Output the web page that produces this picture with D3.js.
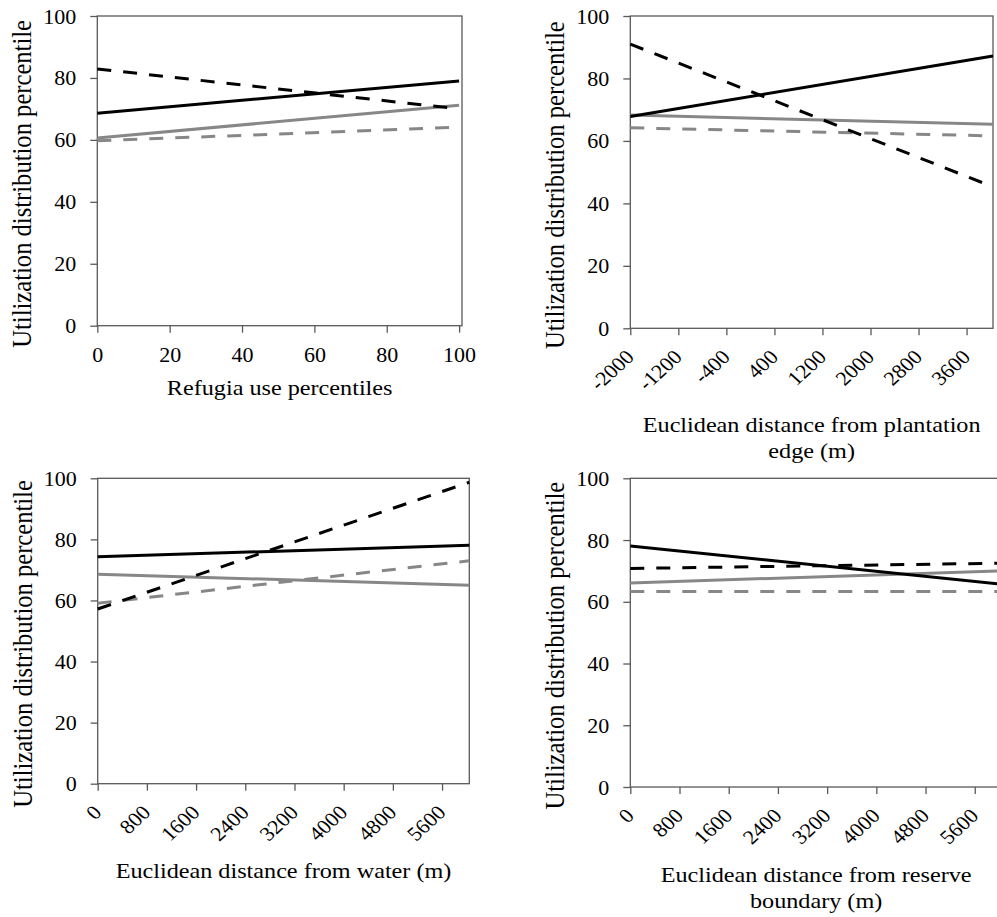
<!DOCTYPE html>
<html>
<head>
<meta charset="utf-8">
<script src="https://cdn.jsdelivr.net/npm/d3@7"></script>
<style>
  html, body { margin: 0; padding: 0; background: #fff; }
  svg { display: block; }
  text { font-family: "Liberation Serif", "Times New Roman", serif; fill: #000; }
</style>
</head>
<body>
<svg id="chart" width="997" height="917"></svg>
<script>
// ---- data -------------------------------------------------------------
const yTicks = [0, 20, 40, 60, 80, 100];

const refugiaTicks = [0, 20, 40, 60, 80, 100];
const plantationTicks = [-2000, -1200, -400, 400, 1200, 2000, 2800, 3600];
const waterTicks = [0, 800, 1600, 2400, 3200, 4000, 4800, 5600];
const reserveTicks = [0, 800, 1600, 2400, 3200, 4000, 4800, 5600];

// axis extents (x) for each panel
const refugiaExtent = [0, 100.8];
const plantationExtent = [-2000, 4040];
const waterExtent = [0, 6043];
const reserveExtent = [0, 6043];

// x positions where each fitted line starts and ends
const refugiaEnds = [0, 100];
const plantationEnds = [-2000, 4040];
const waterEnds = [0, 6043];
const reserveEnds = [0, 6043];

// fitted utilization distribution percentile at the two ends
// order: black solid, black dashed, grey solid, grey dashed
const refugiaBlackSolid = [68.6, 79.0];
const refugiaBlackDashed = [82.9, 70.0];
const refugiaGreySolid = [60.6, 71.2];
const refugiaGreyDashed = [59.7, 64.1];

const plantationBlackSolid = [67.8, 87.2];
const plantationBlackDashed = [91.0, 45.3];
const plantationGreySolid = [68.3, 65.3];
const plantationGreyDashed = [64.2, 61.6];

const waterBlackSolid = [74.3, 78.1];
const waterBlackDashed = [57.2, 98.7];
const waterGreySolid = [68.6, 65.0];
const waterGreyDashed = [59.1, 73.0];

const reserveBlackSolid = [78.1, 65.7];
const reserveBlackDashed = [70.8, 72.5];
const reserveGreySolid = [66.1, 70.0];
const reserveGreyDashed = [63.3, 63.3];

const yTitle = "Utilization distribution percentile";
const refugiaTitle = ["Refugia use percentiles"];
const plantationTitle = ["Euclidean distance from plantation", "edge (m)"];
const waterTitle = ["Euclidean distance from water (m)"];
const reserveTitle = ["Euclidean distance from reserve", "boundary (m)"];

// ---- layout -----------------------------------------------------------
const panels = [
  { box: { left: 97.3, right: 462, top: 16, bottom: 325.7 }, extent: refugiaExtent, ticks: refugiaTicks,
    ends: refugiaEnds, series: [refugiaGreyDashed, refugiaGreySolid, refugiaBlackDashed, refugiaBlackSolid],
    title: refugiaTitle, rotated: false, titleOffset: 69.3 },
  { box: { left: 630.3, right: 993, top: 16, bottom: 328.3 }, extent: plantationExtent, ticks: plantationTicks,
    ends: plantationEnds, series: [plantationGreyDashed, plantationGreySolid, plantationBlackDashed, plantationBlackSolid],
    title: plantationTitle, rotated: true, titleOffset: 103.4 },
  { box: { left: 97.7, right: 469.3, top: 478.3, bottom: 783.7 }, extent: waterExtent, ticks: waterTicks,
    ends: waterEnds, series: [waterGreyDashed, waterGreySolid, waterBlackDashed, waterBlackSolid],
    title: waterTitle, rotated: true, titleOffset: 94.6 },
  { box: { left: 630.3, right: 1002, top: 478.3, bottom: 787 }, extent: reserveExtent, ticks: reserveTicks,
    ends: reserveEnds, series: [reserveGreyDashed, reserveGreySolid, reserveBlackDashed, reserveBlackSolid],
    title: reserveTitle, rotated: true, titleOffset: 94.7 }
];

const seriesStyle = [
  { color: "#878787", dash: "14,12" },
  { color: "#878787", dash: null },
  { color: "#000000", dash: "14,12" },
  { color: "#000000", dash: null }
];

const frameColor = "#595959";
const stretch = 1.1; // horizontal glyph stretch used throughout the figure

const svg = d3.select("#chart");
svg.append("rect").attr("width", 997).attr("height", 917).attr("fill", "#fff");

panels.forEach(p => {
  const b = p.box;
  const x = d3.scaleLinear().domain(p.extent).range([b.left, b.right]);
  const y = d3.scaleLinear().domain([0, 100]).range([b.bottom, b.top]);
  const g = svg.append("g");

  // plot frame
  g.append("rect")
    .attr("x", b.left).attr("y", b.top)
    .attr("width", b.right - b.left).attr("height", b.bottom - b.top)
    .attr("fill", "none").attr("stroke", frameColor).attr("stroke-width", 1.3);

  // y axis
  const yAxis = g.append("g").attr("transform", `translate(${b.left},0)`)
    .call(d3.axisLeft(y).tickValues(yTicks).tickSize(7).tickSizeOuter(0));
  yAxis.select(".domain").remove();
  yAxis.selectAll(".tick line").attr("stroke", frameColor).attr("stroke-width", 1.3);
  yAxis.selectAll(".tick text")
    .attr("x", null).attr("dy", null)
    .attr("transform", `translate(-21,7) scale(${stretch},1)`)
    .attr("text-anchor", "end")
    .style("font-size", "20px").attr("font-family", null).attr("fill", "#000");

  // x axis
  const xAxis = g.append("g").attr("transform", `translate(0,${b.bottom})`)
    .call(d3.axisBottom(x).tickValues(p.ticks).tickSize(7).tickSizeOuter(0).tickFormat(d3.format("d")));
  xAxis.select(".domain").remove();
  xAxis.selectAll(".tick line").attr("stroke", frameColor).attr("stroke-width", 1.3);
  const xt = xAxis.selectAll(".tick text")
    .attr("y", null).attr("dy", null)
    .style("font-size", "20px").attr("font-family", null).attr("fill", "#000")
    .text(d => String(d));
  if (p.rotated) {
    xt.attr("text-anchor", "end")
      .attr("transform", `translate(4.5,30) scale(${stretch},1) rotate(-45)`);
  } else {
    xt.attr("text-anchor", "middle")
      .attr("transform", `translate(0,36.6) scale(${stretch},1)`);
  }

  // fitted lines
  const line = d3.line().x(d => x(d[0])).y(d => y(d[1]));
  p.series.forEach((vals, i) => {
    const st = seriesStyle[i];
    g.append("path")
      .datum(p.ends.map((e, k) => [e, vals[k]]))
      .attr("d", line)
      .attr("fill", "none")
      .attr("stroke", st.color)
      .attr("stroke-width", 3)
      .attr("stroke-dasharray", st.dash);
  });

  // y axis title
  g.append("text")
    .attr("transform", `translate(${b.left - 66},${(b.top + b.bottom) / 2 + 13}) scale(${stretch},1) rotate(-90)`)
    .attr("text-anchor", "middle")
    .style("font-size", "24.6px")
    .text(yTitle);

  // x axis title
  p.title.forEach((t, k) => {
    g.append("text")
      .attr("transform", `translate(${(b.left + b.right) / 2},${b.bottom + p.titleOffset + k * 26.3}) scale(${stretch},1)`)
      .attr("text-anchor", "middle")
      .style("font-size", "22px")
      .text(t);
  });
});
</script>
</body>
</html>
